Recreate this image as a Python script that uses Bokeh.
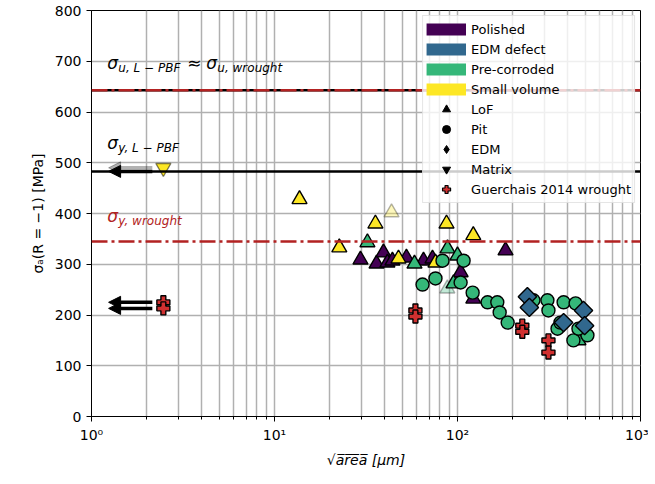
import numpy as np
from bokeh.plotting import figure
from bokeh.models import (Span, Label, Arrow, NormalHead, Legend, LegendItem,
                          FixedTicker)
from bokeh.embed import file_html
from bokeh.resources import INLINE

# ---------------- data ----------------
categories = ["Polished", "EDM defect", "Pre-corroded", "Small volume"]
cat_colors = ["#440154", "#31688e", "#35b779", "#fde725"]
defect_types = ["LoF", "Pit", "EDM", "Matrix"]

# Polished, LoF
pol_lof_x = [29.5, 36.1, 39.4, 41.4, 44.1, 52.6, 65.2, 73.0, 104, 122, 183]
pol_lof_y = [309, 301, 323, 303, 307, 313, 307, 311, 284, 232, 327]

# Pre-corroded, LoF
cor_lof_x = [32.2, 58.2, 88.2, 100, 95.1, 458]
cor_lof_y = [343, 301, 331, 317, 262, 150]
cor_lof_faded_x = [88]
cor_lof_faded_y = [252]

# Pre-corroded, Pit
cor_pit_x = [64.4, 75.8, 82.8, 108, 104, 121, 146, 165, 170, 188, 260, 310, 314,
             380, 442, 352, 365, 513, 430, 458]
cor_pit_y = [260, 272, 307, 307, 264, 244, 225, 225, 205, 185, 229, 229, 209,
             225, 223, 173, 185, 160, 150, 173]

# EDM defect, EDM
edm_x = [241, 247, 380, 488, 495]
edm_y = [236, 215, 185, 209, 179]

# Small volume, LoF
sv_lof_x = [13.7, 22.6, 35.6, 47.6, 75.8, 87.1, 122]
sv_lof_y = [428, 333, 380, 311, 303, 380, 357]
sv_lof_faded_x = [43.6]
sv_lof_faded_y = [402]

# Small volume, Matrix
sv_mat_x = [2.47]
sv_mat_y = [490]

# Guerchais 2014 wrought
guer_x = [2.47, 2.47, 58.9, 58.9, 226, 226, 314, 314]
guer_y = [225, 213, 209, 197, 179, 167, 150, 126]

# run-out arrows (points below the plotted range)
arrow_y = [225, 213, 483]
arrow_faded_y = [490]

# reference strengths [MPa]
sigma_u = 643
sigma_y_lpbf = 483
sigma_y_wrought = 345

x_ticks = [1, 10, 100, 1000]
x_tick_labels = ["10⁰", "10¹", "10²", "10³"]
y_ticks = [0, 100, 200, 300, 400, 500, 600, 700, 800]

FONT = "DejaVu Sans"
RED = "#b22222"
GRID = "#b0b0b0"
NAN = [float("nan")]

p = figure(width=648, height=480, x_axis_type="log", x_range=(1, 1000), y_range=(0, 800),
           output_backend="svg", toolbar_location=None,
           min_border_left=91, min_border_right=8, min_border_top=10, min_border_bottom=64)
p.outline_line_color = "black"
p.outline_line_width = 1

# grid
p.xgrid.grid_line_color = GRID
p.xgrid.grid_line_width = 1.5
p.xgrid.minor_grid_line_color = GRID
p.xgrid.minor_grid_line_width = 1.5
p.ygrid.grid_line_color = GRID
p.ygrid.grid_line_width = 1.5

# axes
p.xaxis.ticker = FixedTicker(ticks=x_ticks,
                             minor_ticks=[m * d for d in [1, 10, 100] for m in range(2, 10)])
p.xgrid.ticker = p.xaxis.ticker
p.xaxis.major_label_overrides = {t: l for t, l in zip(x_ticks, x_tick_labels)}
p.yaxis.ticker = FixedTicker(ticks=y_ticks)
p.ygrid.ticker = p.yaxis.ticker
for ax in (p.xaxis, p.yaxis):
    ax.axis_line_color = "black"
    ax.major_tick_line_color = "black"
    ax.minor_tick_line_color = "black"
    ax.major_tick_out = 5
    ax.major_tick_in = 0
    ax.minor_tick_out = 3
    ax.minor_tick_in = 0
    ax.major_label_text_font = FONT
    ax.major_label_text_font_size = "14px"
    ax.major_label_text_color = "black"
    ax.axis_label_text_font = FONT
    ax.axis_label_text_font_size = "14px"
    ax.axis_label_text_color = "black"
    ax.axis_label_text_font_style = "normal"
p.yaxis.minor_tick_line_color = None
p.xaxis.axis_label = "√a̅r̅e̅a̅ [μm]"
p.xaxis.axis_label_text_font_style = "italic"
p.xaxis.axis_label_standoff = 6
p.yaxis.axis_label = "σₐ(R = −1) [MPa]"
p.yaxis.axis_label_standoff = 6

# reference lines
p.add_layout(Span(location=sigma_u, dimension="width", line_color="black", line_width=2.5))
p.add_layout(Span(location=sigma_u, dimension="width", line_color=RED, line_width=2.5,
                  line_dash="16 4 3 4"))
p.add_layout(Span(location=sigma_y_lpbf, dimension="width", line_color="black", line_width=2.5))
p.add_layout(Span(location=sigma_y_wrought, dimension="width", line_color=RED, line_width=2.5,
                  line_dash="16 4 3 4"))

# annotations
def sig_label(x, y, sub, color="black", dx=0):
    p.add_layout(Label(x=x, y=y, x_offset=dx, text="σ", text_font=FONT, text_font_size="17px",
                       text_font_style="italic", text_color=color, text_baseline="middle"))
    p.add_layout(Label(x=x, y=y, x_offset=dx + 11, y_offset=-5, text=sub, text_font=FONT,
                       text_font_size="12px", text_font_style="italic", text_color=color,
                       text_baseline="middle"))

sig_label(1.22, 696, "u, L − PBF")
p.add_layout(Label(x=1.22, y=696, x_offset=80, text="≈", text_font=FONT, text_font_size="17px",
                   text_baseline="middle", text_color="black"))
sig_label(1.22, 696, "u, wrought", dx=99)
sig_label(1.22, 538, "y, L − PBF")
sig_label(1.22, 396, "y, wrought", color=RED)

# run-out arrows
for yv in arrow_faded_y:
    p.add_layout(Arrow(end=NormalHead(size=12, fill_color="black", line_color="black",
                                      fill_alpha=0.3, line_alpha=0.3),
                       x_start=2.15, y_start=yv, x_end=1.24, y_end=yv,
                       line_width=3.5, line_color="black", line_alpha=0.3))
for yv in arrow_y:
    p.add_layout(Arrow(end=NormalHead(size=12, fill_color="black", line_color="black"),
                       x_start=2.15, y_start=yv, x_end=1.24, y_end=yv,
                       line_width=3.5, line_color="black"))

# data points
MK = dict(line_color="black", line_width=1.4)
p.scatter(pol_lof_x, pol_lof_y, marker="triangle", size=15, fill_color=cat_colors[0], **MK)
p.scatter(cor_lof_faded_x, cor_lof_faded_y, marker="triangle", size=15, fill_color=cat_colors[2],
          fill_alpha=0.3, line_alpha=0.3, line_color="black", line_width=1.4)
p.scatter(sv_lof_faded_x, sv_lof_faded_y, marker="triangle", size=15, fill_color=cat_colors[3],
          fill_alpha=0.3, line_alpha=0.3, line_color="black", line_width=1.4)
p.scatter(cor_lof_x, cor_lof_y, marker="triangle", size=15, fill_color=cat_colors[2], **MK)
p.scatter(sv_lof_x, sv_lof_y, marker="triangle", size=15, fill_color=cat_colors[3], **MK)
p.scatter(sv_mat_x, sv_mat_y, marker="inverted_triangle", size=15, fill_color=cat_colors[3],
          line_color="black", line_width=1.4, line_alpha=0.5)
p.scatter(cor_pit_x, cor_pit_y, marker="circle", size=13, fill_color=cat_colors[2], **MK)
p.scatter(edm_x, edm_y, marker="square", angle=np.pi / 4, size=13, fill_color=cat_colors[1], **MK)
p.scatter(guer_x, guer_y, marker="plus", size=13, fill_color="#d03030", **MK)

# legend entries (renderers hold no visible points)
items = []
for name, col in zip(categories, cat_colors):
    r = p.line(x=NAN, y=NAN, line_color=col, line_width=12, line_cap="butt")
    items.append(LegendItem(label=name, renderers=[r]))
for name, mk in zip(defect_types, ["triangle", "circle", "diamond", "inverted_triangle"]):
    r = p.scatter(x=NAN, y=NAN, marker=mk, fill_color="black", line_color="black")
    items.append(LegendItem(label=name, renderers=[r]))
r = p.scatter(x=NAN, y=NAN, marker="plus", fill_color="#d03030", line_color="black",
              line_width=1.2)
items.append(LegendItem(label="Guerchais 2014 wrought", renderers=[r]))

legend = Legend(items=items, location="top_right", margin=5, padding=3,
                glyph_width=40, glyph_height=20, spacing=0, label_height=20,
                label_standoff=5, label_text_font=FONT, label_text_font_size="13px",
                label_text_color="black", background_fill_alpha=0.8,
                border_line_color="#cccccc", border_line_width=1)
p.add_layout(legend)

open("out.html", "w").write(file_html(p, INLINE))
